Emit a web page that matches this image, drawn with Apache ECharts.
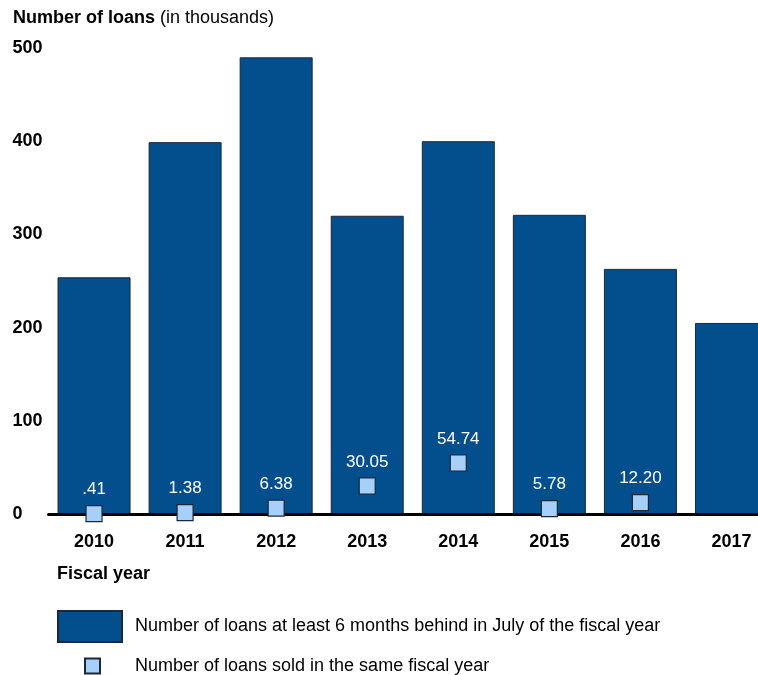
<!DOCTYPE html>
<html>
<head>
<meta charset="utf-8">
<script src="https://cdn.jsdelivr.net/npm/echarts@6/dist/echarts.min.js"></script>
<style>html,body{margin:0;padding:0;background:#fff;overflow:hidden}#c{width:777px;height:675px}</style>
</head>
<body>
<div id="c"></div>
<script>
const categories = ['2010','2011','2012','2013','2014','2015','2016','2017'];
const behindLoans = [254, 399, 490, 320, 400, 321, 263, 205];
const soldLoans = [0.41, 1.38, 6.38, 30.05, 54.74, 5.78, 12.20, null];
const soldLabels = ['.41', '1.38', '6.38', '30.05', '54.74', '5.78', '12.20', ''];
const yTicks = [0, 100, 200, 300, 400, 500];

const barName = 'Number of loans at least 6 months behind in July of the fiscal year';
const dotName = 'Number of loans sold in the same fiscal year';
const FONT = '"Liberation Sans", Arial, Helvetica, sans-serif';

const chart = echarts.init(document.getElementById('c'), null, {renderer: 'canvas'});
chart.setOption({
  animation: false,
  backgroundColor: '#ffffff',
  textStyle: {fontFamily: FONT},
  title: [{
    text: '{b|Number of loans} {n|(in thousands)}',
    left: 13, top: 9, padding: 0,
    textStyle: {
      rich: {
        b: {fontFamily: FONT, fontWeight: 'bold', fontSize: 18, color: '#000'},
        n: {fontFamily: FONT, fontWeight: 'normal', fontSize: 18, color: '#000'}
      }
    }
  }, {
    text: 'Fiscal year',
    left: 57, top: 565, padding: 0,
    textStyle: {fontFamily: FONT, fontWeight: 'bold', fontSize: 18, color: '#000'}
  }],
  legend: [{
    data: [{name: barName, icon: 'rect'}],
    left: 57, top: 610, padding: 0,
    itemWidth: 64, itemHeight: 31,
    textStyle: {fontFamily: FONT, fontSize: 18, color: '#000', padding: [0, 0, 0, 8]},
    selectedMode: false
  }, {
    data: [{name: dotName, icon: 'rect'}],
    left: 84, top: 657, padding: 0,
    itemWidth: 15, itemHeight: 15,
    textStyle: {fontFamily: FONT, fontSize: 18, color: '#000', padding: [0, 0, 0, 30]},
    selectedMode: false
  }],
  grid: {left: 48.5, top: 48, right: 0, bottom: 161, containLabel: false},
  xAxis: {
    type: 'category',
    data: categories,
    axisTick: {show: false},
    axisLine: {show: true, lineStyle: {color: '#000', width: 3}},
    axisLabel: {margin: 19, fontFamily: FONT, fontWeight: 'bold', fontSize: 18, color: '#000'},
    z: 10
  },
  yAxis: {
    type: 'value',
    min: 0, max: 500, interval: 100,
    splitLine: {show: false},
    axisLine: {show: false},
    axisTick: {show: false},
    axisLabel: {
      align: 'left', margin: 36,
      fontFamily: FONT, fontWeight: 'bold', fontSize: 18, color: '#000',
      formatter: v => yTicks.includes(v) ? String(v) : ''
    }
  },
  series: [{
    name: barName,
    type: 'bar',
    data: behindLoans,
    barWidth: 73,
    itemStyle: {color: '#034f8e', borderColor: '#1b2838', borderWidth: 1},
    z: 2
  }, {
    name: dotName,
    type: 'scatter',
    data: soldLoans,
    symbol: 'rect',
    symbolSize: 16,
    itemStyle: {color: '#a6d0fa', borderColor: '#1b2838', borderWidth: 1.2, opacity: 1},
    label: {
      show: true, position: 'top', distance: 7,
      fontFamily: FONT, fontSize: 17, color: '#ffffff',
      formatter: p => soldLabels[p.dataIndex]
    },
    z: 20
  }]
});
</script>
</body>
</html>
